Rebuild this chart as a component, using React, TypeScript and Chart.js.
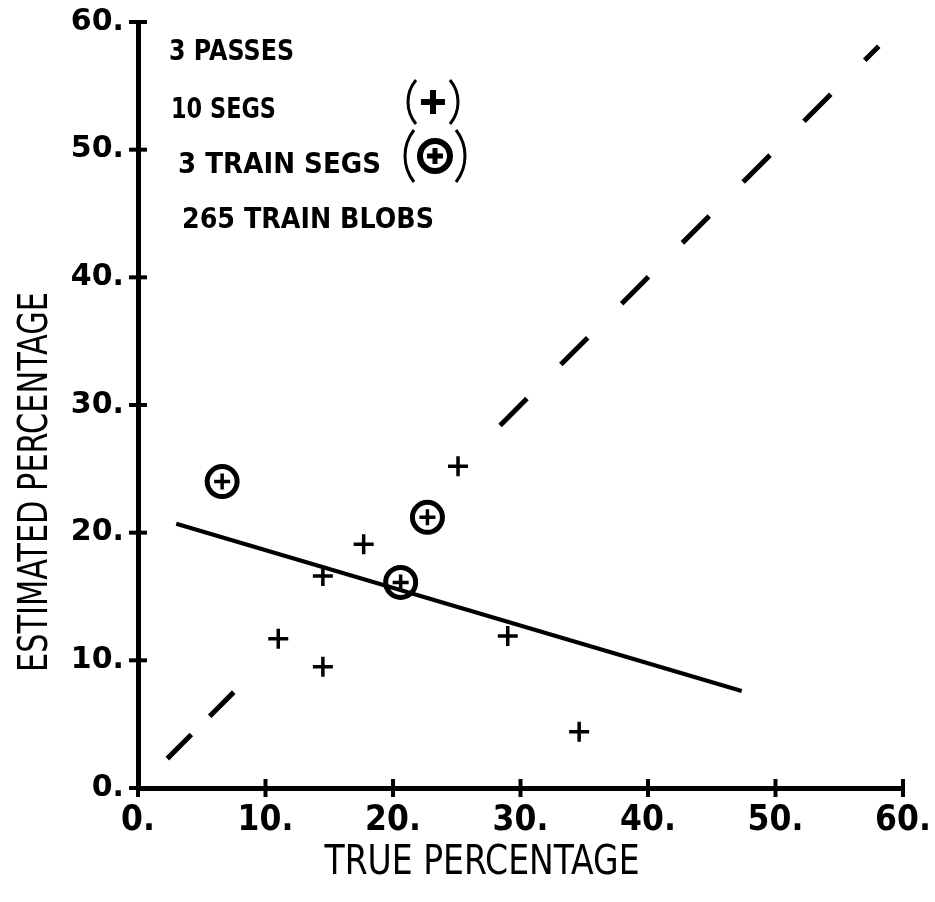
import { useEffect, useRef } from "react";
import { Chart, registerables } from "chart.js";

Chart.register(...registerables);

// ---- data ----
const axisTicks = [0, 10, 20, 30, 40, 50, 60];
const segX = [25.1, 17.7, 14.5, 11.0, 14.5, 29.0, 34.6];
const segY = [25.2, 19.1, 16.6, 11.7, 9.5, 11.9, 4.4];
const trainX = [6.6, 22.7, 20.6];
const trainY = [24.0, 21.2, 16.1];
const fitX = [3.0, 47.35];
const fitY = [20.7, 7.6];
const diagonalLower = [2.3, 7.6];
const diagonalUpper = [28.4, 58.1];
const noteLines = ["3 PASSES", "10 SEGS", "3 TRAIN SEGS", "265 TRAIN BLOBS"];
const xTitle = "TRUE PERCENTAGE";
const yTitle = "ESTIMATED PERCENTAGE";

const NARROW = "'Liberation Sans Narrow', 'DejaVu Sans Condensed', sans-serif";

function fittedText(
  ctx: CanvasRenderingContext2D,
  text: string,
  x: number,
  y: number,
  width: number,
  font: string,
  align: CanvasTextAlign,
  rotation = 0
) {
  ctx.save();
  ctx.font = font;
  ctx.textAlign = align;
  ctx.textBaseline = "alphabetic";
  const m = ctx.measureText(text).width || 1;
  ctx.translate(x, y);
  ctx.rotate(rotation);
  ctx.scale(width / m, 1);
  ctx.fillText(text, 0, 0);
  ctx.restore();
}

function paren(ctx: CanvasRenderingContext2D, edgeX: number, cy: number, h: number, bulge: number, left: boolean) {
  const half = h / 2;
  const R = (half * half + bulge * bulge) / (2 * bulge);
  const a = Math.asin(half / R);
  ctx.beginPath();
  if (left) ctx.arc(edgeX + R, cy, R, Math.PI - a, Math.PI + a);
  else ctx.arc(edgeX - R, cy, R, -a, a);
  ctx.stroke();
}

const decor = {
  id: "decor",
  afterDraw(chart: any) {
    const ctx: CanvasRenderingContext2D = chart.ctx;
    const xs = chart.scales.x;
    const ys = chart.scales.y;
    ctx.save();
    ctx.fillStyle = "#000";
    ctx.strokeStyle = "#000";
    ctx.lineCap = "butt";
    // tick marks crossing the axes
    ctx.lineWidth = 4;
    for (const v of axisTicks) {
      const px = xs.getPixelForValue(v);
      ctx.beginPath();
      ctx.moveTo(px, ys.bottom - 9);
      ctx.lineTo(px, ys.bottom + 9);
      ctx.stroke();
      const py = ys.getPixelForValue(v);
      ctx.beginPath();
      ctx.moveTo(xs.left - 9, py);
      ctx.lineTo(xs.left + 9, py);
      ctx.stroke();
    }
    // axis titles
    const titleFont = `40px ${NARROW}`;
    fittedText(ctx, xTitle, 482, 874, 315, titleFont, "center");
    fittedText(ctx, yTitle, 47, 482, 380, titleFont, "center", -Math.PI / 2);
    // annotation block
    const noteFont = `bold 28px 'DejaVu Sans', sans-serif`;
    const lefts = [169, 171, 178, 182];
    const bases = [60, 118, 173, 228];
    const widths = [125, 105, 203, 252];
    noteLines.forEach((t, i) => fittedText(ctx, t, lefts[i], bases[i], widths[i], noteFont, "left"));
    // legend symbols
    ctx.lineWidth = 3;
    paren(ctx, 408, 102, 44, 8, true);
    paren(ctx, 458, 102, 44, 8, false);
    ctx.lineWidth = 6;
    ctx.beginPath();
    ctx.moveTo(421, 102);
    ctx.lineTo(445, 102);
    ctx.moveTo(433, 90);
    ctx.lineTo(433, 114);
    ctx.stroke();
    ctx.lineWidth = 3;
    paren(ctx, 405, 156, 52, 9, true);
    paren(ctx, 465, 156, 52, 9, false);
    ctx.lineWidth = 6;
    ctx.beginPath();
    ctx.arc(435, 156, 15, 0, Math.PI * 2);
    ctx.stroke();
    ctx.lineWidth = 5;
    ctx.beginPath();
    ctx.moveTo(427, 156);
    ctx.lineTo(443, 156);
    ctx.moveTo(435, 148);
    ctx.lineTo(435, 164);
    ctx.stroke();
    ctx.restore();
  },
};

export default function App() {
  const ref = useRef<HTMLCanvasElement | null>(null);
  useEffect(() => {
    if (!ref.current) return;
    const pts = (xa: number[], ya: number[]) => xa.map((x, i) => ({ x, y: ya[i] }));
    const chart = new Chart(ref.current, {
      type: "scatter",
      data: {
        datasets: [
          {
            label: "fit",
            data: pts(fitX, fitY),
            showLine: true,
            borderColor: "#000",
            borderWidth: 4,
            pointRadius: 0,
          },
          {
            label: "diagonal lower",
            data: pts(diagonalLower, diagonalLower),
            showLine: true,
            borderColor: "#000",
            borderWidth: 5,
            borderDash: [34, 26],
            pointRadius: 0,
          },
          {
            label: "diagonal upper",
            data: pts(diagonalUpper, diagonalUpper),
            showLine: true,
            borderColor: "#000",
            borderWidth: 5,
            borderDash: [38, 48],
            pointRadius: 0,
          },
          {
            label: "10 SEGS",
            data: pts(segX, segY),
            pointStyle: "cross",
            pointRadius: 10,
            borderWidth: 3.5,
            borderColor: "#000",
            backgroundColor: "#000",
          },
          {
            label: "3 TRAIN SEGS ring",
            data: pts(trainX, trainY),
            pointStyle: "circle",
            pointRadius: 15,
            borderWidth: 5,
            borderColor: "#000",
            backgroundColor: "rgba(0,0,0,0)",
          },
          {
            label: "3 TRAIN SEGS cross",
            data: pts(trainX, trainY),
            pointStyle: "cross",
            pointRadius: 8,
            borderWidth: 3.5,
            borderColor: "#000",
            backgroundColor: "#000",
          },
        ],
      },
      options: {
        responsive: false,
        animation: false,
        events: [],
        layout: { padding: { left: 0, top: 22, right: 32, bottom: 0 } },
        plugins: { legend: { display: false }, tooltip: { enabled: false } },
        scales: {
          x: {
            type: "linear",
            min: 0,
            max: 60,
            afterBuildTicks: (s: any) => {
              s.ticks = axisTicks.map((v) => ({ value: v }));
            },
            ticks: {
              callback: (v: any) => `${v}.`,
              font: { family: NARROW, weight: "bold", size: 35 },
              color: "#000",
              padding: 12,
              maxRotation: 0,
              autoSkip: false,
            },
            grid: { display: false, drawTicks: false },
            border: { display: true, color: "#000", width: 5 },
            afterFit: (s: any) => {
              s.height = 114;
              s.paddingLeft = 0;
              s.paddingRight = 0;
            },
          },
          y: {
            type: "linear",
            min: 0,
            max: 60,
            afterBuildTicks: (s: any) => {
              s.ticks = axisTicks.map((v) => ({ value: v }));
            },
            ticks: {
              callback: (v: any) => `${v}.`,
              font: { family: "'DejaVu Sans', sans-serif", weight: "bold", size: 30 },
              color: "#000",
              padding: 14,
              autoSkip: false,
            },
            grid: { display: false, drawTicks: false },
            border: { display: true, color: "#000", width: 5 },
            afterFit: (s: any) => {
              s.width = 138;
              s.paddingTop = 0;
              s.paddingBottom = 0;
            },
          },
        },
      },
      plugins: [decor],
    } as any);
    return () => chart.destroy();
  }, []);
  return (
    <div style={{ position: "absolute", left: 0, top: 0, width: 935, height: 902, background: "#fff" }}>
      <canvas ref={ref} width={935} height={902} style={{ display: "block" }} />
    </div>
  );
}
